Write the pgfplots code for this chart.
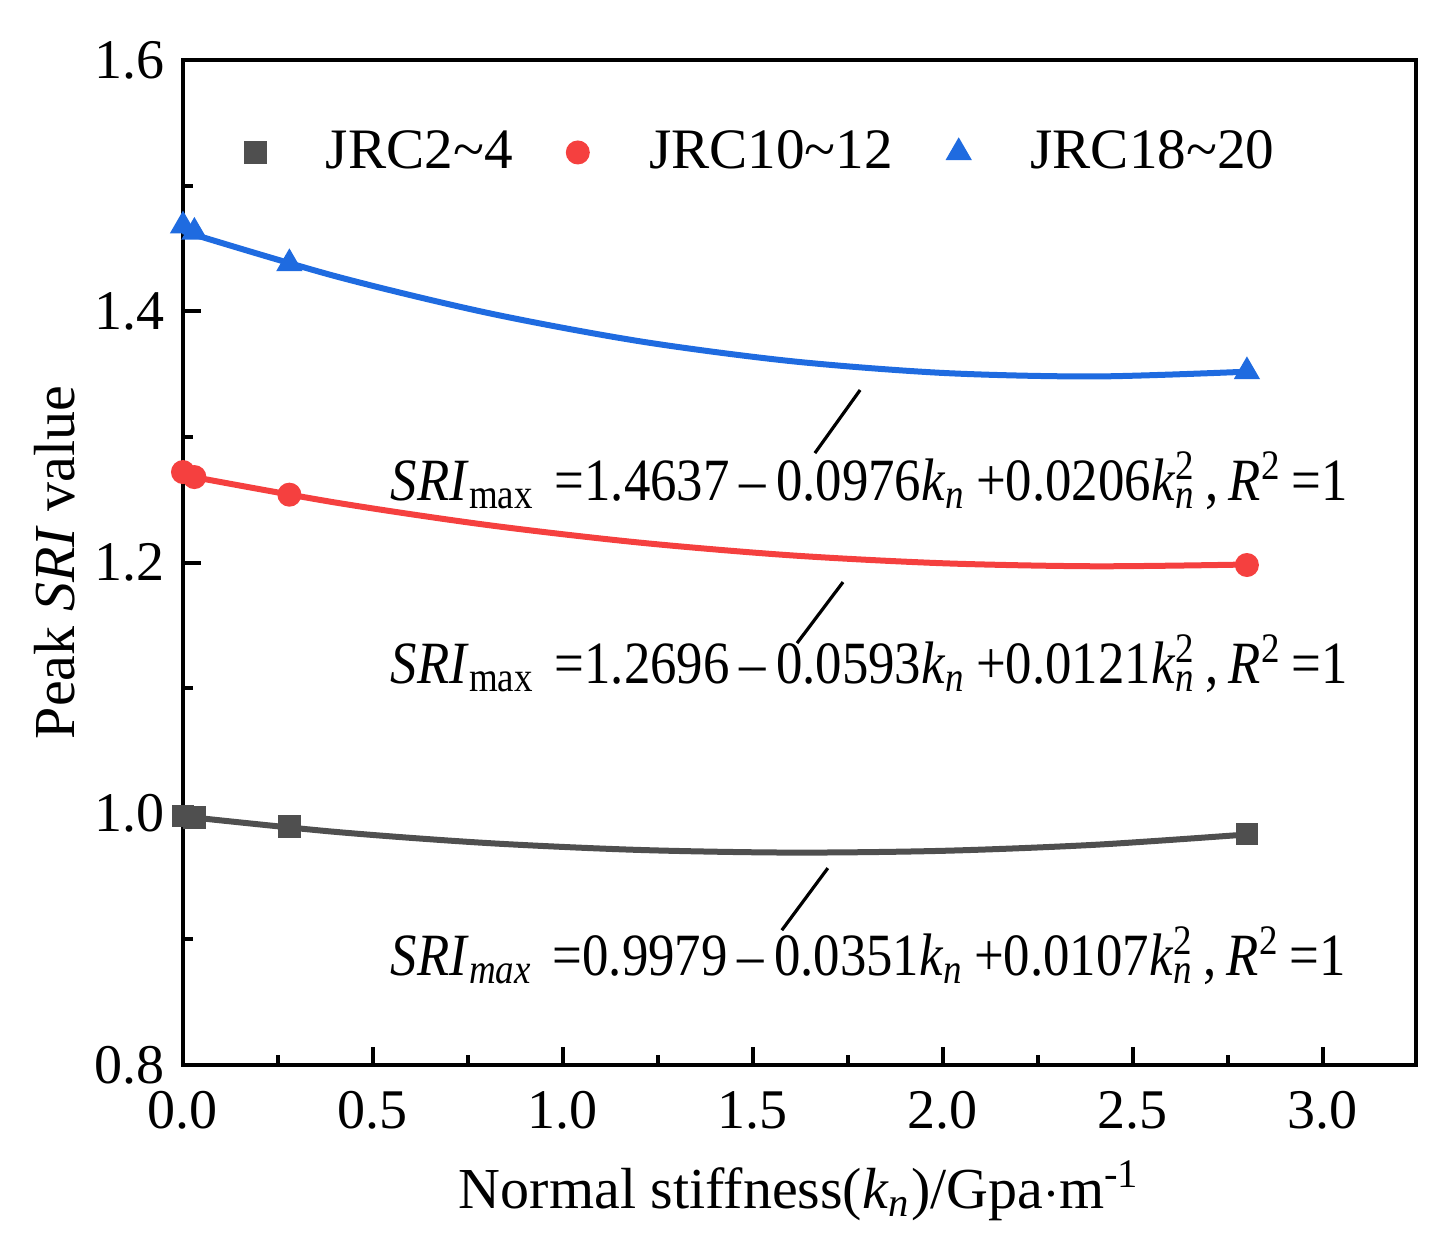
\documentclass[border=0pt]{standalone}
\usepackage{pgfplots}
\pgfplotsset{compat=1.18}
\usepackage{fontspec}
\setmainfont{Liberation Serif}
\newfontfamily\eqfont{Liberation Serif}[FakeStretch=0.88]
\definecolor{cblue}{HTML}{1F6BE0}
\definecolor{cred}{HTML}{F5403F}
\definecolor{cgray}{HTML}{4F4F4F}
\newcommand{\kn}{\textit{k}\textsubscript{\textit{n}}}
\newcommand{\knsq}{\textit{k}\rlap{\textsuperscript{2}}\textsubscript{\textit{n}}}
\newcommand{\eqtext}[4]{\textit{SRI}\textsubscript{#1}\,\,=#2\,\textendash\,#3\kn\,+#4\knsq\,,\,\textit{R}\textsuperscript{2}\,=1}
\begin{document}
\begin{tikzpicture}
\begin{axis}[
  scale only axis, width=308.25pt, height=251.25pt,
  xmin=0, xmax=3.245, ymin=0.8, ymax=1.6,
  xtick={0,0.5,...,3.0}, ytick={0.8,1.0,1.2,1.4,1.6},
  minor x tick num=1, minor y tick num=1,
  tick pos=left, tick align=inside,
  major tick length=4.5pt, minor tick length=2.5pt,
  axis line style={line width=1pt}, every tick/.style={line width=1pt, black},
  /pgf/number format/fixed, /pgf/number format/fixed zerofill, /pgf/number format/precision=1,
  /pgf/number format/assume math mode=true,
  tick label style={font=\fontsize{14}{15}\selectfont},
  x tick label style={yshift=-3pt},
  y tick label style={xshift=-1pt},
  xlabel={Normal stiffness(\kn)/Gpa$\cdot$m\textsuperscript{-1}},
  ylabel={Peak \textit{SRI} value},
  label style={font=\fontsize{14.5}{16}\selectfont},
  xlabel style={yshift=-1pt},
  ylabel style={yshift=-2pt},
  clip=false,
  legend columns=3,
  legend style={draw=none, fill=none, at={(0.04,0.908)}, anchor=west,
    font=\fontsize{14.3}{16}\selectfont,
    /tikz/every odd column/.append style={column sep=13pt},
    /tikz/every even column/.append style={column sep=11.5pt}},
  legend cell align=left,
  legend image code/.code={\draw[#1] plot coordinates {(0cm,0cm)};},
]
% fit curves
\addplot[cgray, line width=1.5pt, smooth, forget plot] coordinates {
(0,0.9979)(0.4,0.9856)(0.8,0.9767)(1.2,0.9712)(1.6,0.9691)(2.0,0.9705)(2.4,0.9753)(2.8,0.9835)};
\addplot[cred, line width=1.5pt, smooth, forget plot] coordinates {
(0,1.2696)(0.4,1.2478)(0.8,1.2299)(1.2,1.2159)(1.6,1.2057)(2.0,1.1994)(2.4,1.1970)(2.8,1.1984)};
\addplot[cblue, line width=1.5pt, smooth, forget plot] coordinates {
(0,1.4637)(0.4,1.4280)(0.8,1.3988)(1.2,1.3762)(1.6,1.3603)(2.0,1.3509)(2.4,1.3481)(2.8,1.3519)};
% markers
\addplot[only marks, mark=square*, mark size=2.6pt, cgray, mark options={fill=cgray, draw=cgray}] coordinates {
(0,0.998)(0.03,0.997)(0.28,0.990)(2.8,0.984)};
\addlegendentry{JRC2\textasciitilde 4}
\addplot[only marks, mark=*, mark size=2.8pt, cred, mark options={fill=cred, draw=cred}] coordinates {
(0,1.272)(0.03,1.268)(0.28,1.254)(2.8,1.198)};
\addlegendentry{JRC10\textasciitilde 12}
\addplot[only marks, mark=triangle*, mark size=3.4pt, cblue, mark options={fill=cblue, draw=cblue}] coordinates {
(0,1.468)(0.03,1.463)(0.28,1.438)(2.8,1.352)};
\addlegendentry{JRC18\textasciitilde 20}
% leader lines
\draw[line width=0.8pt] (axis cs:1.782,1.3373) -- (axis cs:1.663,1.2871);
\draw[line width=0.8pt] (axis cs:1.737,1.1844) -- (axis cs:1.616,1.1358);
\draw[line width=0.8pt] (axis cs:1.697,0.9567) -- (axis cs:1.576,0.9073);
% equations
\node[anchor=base west, inner sep=0pt, font=\fontsize{15}{17}\eqfont] at (axis cs:0.545,1.2497) {\eqtext{max}{1.4637}{0.0976}{0.0206}};
\node[anchor=base west, inner sep=0pt, font=\fontsize{15}{17}\eqfont] at (axis cs:0.545,1.104) {\eqtext{max}{1.2696}{0.0593}{0.0121}};
\node[anchor=base west, inner sep=0pt, font=\fontsize{15}{17}\eqfont] at (axis cs:0.545,0.8715) {\eqtext{\textit{max}}{0.9979}{0.0351}{0.0107}};
\end{axis}
\path (current axis.south west) ++(-45.75pt,-46.75pt);
\path (current axis.north east) ++(6.5pt,15pt);
\end{tikzpicture}
\end{document}
